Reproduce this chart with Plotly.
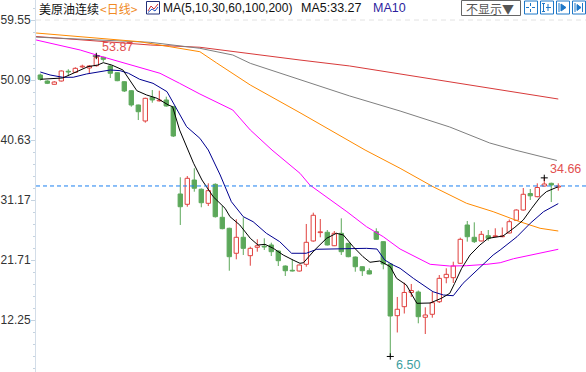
import plotly.graph_objects as go

W, H = 586, 372
PLOT_LEFT = 36

# ---- daily OHLC (candle index 0..74) ----
opens = [50.88, 49.93, 49.41, 49.93, 51.45, 51.30, 52.15, 51.98, 52.34, 53.67,
         52.30, 51.24, 49.82, 48.40, 46.15, 43.63, 47.36, 46.80, 46.94, 45.88,
         32.12, 30.49, 34.32, 32.86, 30.65, 33.64, 28.44, 26.71, 22.77, 25.29,
         22.39, 23.71, 23.86, 24.08, 23.13, 20.76, 20.02, 19.97, 21.03, 24.71,
         26.03, 26.08, 23.96, 25.92, 24.34, 22.18, 20.65, 20.02, 26.17, 24.60,
         21.08, 12.93, 14.35, 16.59, 16.66, 12.68, 13.15, 15.13, 18.92, 18.92,
         21.19, 27.23, 25.29, 24.71, 25.54, 25.40, 25.38, 25.97, 27.97, 29.59,
         32.19, 31.69, 33.37, 33.80, 33.20]
highs = [51.10, 50.05, 49.90, 51.60, 51.78, 52.10, 52.50, 52.45, 53.87, 53.75,
         52.40, 51.30, 49.90, 48.50, 46.20, 47.30, 48.51, 48.40, 47.46, 46.00,
         34.75, 34.95, 36.17, 33.00, 33.80, 33.80, 30.22, 26.80, 28.13, 28.44,
         23.81, 24.97, 25.13, 24.44, 23.20, 20.85, 21.82, 21.00, 27.39, 29.17,
         28.17, 26.44, 26.28, 28.28, 24.40, 22.25, 20.70, 20.40, 26.71, 24.65,
         21.10, 15.88, 18.13, 17.93, 16.90, 14.25, 16.71, 19.34, 20.40, 21.44,
         25.23, 27.86, 27.65, 26.28, 26.44, 26.71, 26.84, 28.10, 29.70, 33.06,
         32.90, 33.80, 34.66, 33.90, 33.80]
lows = [50.00, 49.45, 49.35, 49.85, 50.72, 51.20, 51.95, 51.19, 52.20, 52.97,
        50.41, 49.90, 48.20, 45.88, 43.78, 43.36, 46.51, 46.70, 45.90, 41.10,
        27.23, 30.11, 32.48, 30.02, 30.22, 28.40, 26.55, 20.02, 21.82, 22.50,
        20.81, 23.02, 23.29, 22.34, 20.76, 19.19, 19.90, 19.90, 20.65, 24.60,
        25.29, 24.00, 23.90, 22.50, 22.14, 19.86, 19.19, 19.45, 24.90, 20.24,
        6.50, 10.28, 13.27, 15.88, 11.73, 10.04, 12.61, 14.93, 18.04, 18.08,
        21.10, 24.60, 24.39, 24.65, 24.75, 25.35, 25.30, 25.90, 27.90, 29.50,
        31.17, 31.60, 33.30, 30.85, 32.64]
closes = [50.20, 49.57, 49.77, 51.51, 51.35, 51.93, 52.22, 52.30, 53.67, 53.35,
          51.15, 49.98, 48.36, 46.15, 45.09, 47.20, 46.94, 46.86, 45.99, 41.26,
          30.11, 34.59, 33.02, 30.74, 32.64, 28.54, 26.65, 22.23, 25.29, 23.55,
          23.55, 23.96, 23.76, 23.02, 21.60, 20.02, 19.97, 20.92, 24.50, 28.76,
          26.13, 24.08, 25.92, 23.02, 22.23, 20.65, 20.02, 19.50, 24.97, 21.08,
          12.88, 13.94, 16.59, 16.90, 12.77, 13.04, 14.98, 18.82, 19.45, 20.76,
          24.97, 25.38, 24.60, 25.76, 25.13, 25.48, 25.45, 27.75, 29.59, 32.07,
          31.83, 33.14, 33.69, 33.53, 33.38]

# ---- moving averages (candle index, price) ----
ma5_x = [0, 3.2, 6.8, 8.2, 9, 10.2, 11.8, 12.8, 13.8, 15.2, 16.7, 18.3, 18.9, 19.9,
         21.4, 21.9, 23.1, 24.7, 26.4, 27.1, 28.5, 30.0, 31.1, 32.1, 33.3, 34.7, 36.1,
         37.1, 37.6, 39.2, 40.9, 42.3, 43.3, 44.7, 46.1, 47.1, 48.5, 50.0, 50.9, 52.3,
         53.8, 55.7, 57.3, 58.5, 59.2, 60.2, 61.4, 62.8, 64.0, 65.7, 66.1, 67.8, 69.0,
         70.2, 71.4, 72.3, 73.3, 74]
ma5_y = [50.20, 50.41, 52.19, 52.45, 52.82, 52.45, 51.67, 50.09, 48.40, 47.72, 47.20,
         46.15, 45.88, 42.21, 38.27, 36.96, 34.32, 31.69, 29.86, 28.54, 27.23, 25.13,
         24.07, 24.18, 23.55, 22.50, 21.71, 21.19, 21.28, 23.29, 25.13, 25.92, 25.65,
         23.81, 22.23, 21.35, 21.55, 20.65, 18.82, 17.77, 14.88, 14.93, 15.67, 16.46,
         18.04, 20.40, 22.50, 24.07, 25.13, 25.39, 25.49, 26.87, 28.02, 29.86, 31.60,
         32.48, 32.90, 33.27]
ma10_x = [0, 1.4, 3.2, 4.7, 6.6, 8.5, 10, 11.4, 12.6, 14.2, 16.1, 18.1, 20.9, 22.8, 24,
          25.7, 27.3, 29, 30.4, 32.3, 34.2, 35.9, 38, 39.5, 41.4, 46.6, 48.1, 49.2, 50.4,
          51.4, 53.3, 54.7, 56.1, 57.6, 59, 60.4, 61.9, 63.3, 64.7, 65.7, 68.1, 70, 71.9, 74]
ma10_y = [51.35, 50.88, 50.52, 50.52, 51.04, 51.40, 51.67, 51.56, 51.15, 50.20, 49.57,
          48.25, 42.73, 40.90, 39.05, 35.11, 30.90, 28.54, 27.75, 25.92, 24.60, 22.77,
          22.77, 23.40, 23.44, 23.55, 23.44, 21.71, 20.92, 20.40, 18.82, 17.77, 16.71,
          16.19, 16.08, 18.04, 19.61, 20.92, 22.50, 23.29, 25.38, 27.50, 29.33, 30.60]
ma30_x = [-0.6, 2.8, 5.7, 8.5, 11.4, 14.2, 17.1, 19.9, 22.8, 27.5, 30, 33.1, 37.1, 38.5,
          40.9, 43.8, 46.6, 49, 51.4, 53.3, 55.7, 58.5, 60.9, 63.8, 65.7, 67.6, 74]
ma30_y = [56.40, 55.61, 54.82, 53.87, 52.98, 52.09, 51.15, 49.57, 47.88, 45.36, 42.21,
          39.05, 35.38, 33.54, 31.69, 29.33, 26.96, 25.38, 23.44, 22.34, 21.03, 20.76,
          20.81, 21.03, 21.28, 21.91, 23.40]
ma60_x = [-0.6, 2.8, 8.5, 14.2, 18.5, 22.8, 25.2, 30, 37.1, 41.4, 46.4, 51.4, 56.1,
          60.9, 64.7, 68.5, 71.4, 74]
ma60_y = [57.50, 57.18, 56.66, 56.13, 55.34, 54.55, 52.77, 49.30, 44.93, 42.17, 39.05,
          36.17, 33.27, 30.65, 29.33, 27.75, 26.71, 26.28]
ma100_x = [-0.6, 8.5, 15.7, 22.8, 27.5, 30, 37.1, 44.2, 51.4, 58.5, 64.2, 67.8, 73.8]
ma100_y = [56.85, 56.40, 56.03, 55.09, 54.03, 52.72, 50.09, 47.57, 45.20, 42.68, 40.16,
           39.05, 37.40]
ma200_x = [-0.6, 8.5, 15.7, 22.8, 30, 37.1, 44.2, 51.4, 58.5, 65.7, 74]
ma200_y = [56.95, 56.24, 55.61, 55.25, 54.19, 53.24, 52.30, 51.04, 49.77, 48.51, 47.09]

ytick_vals = [12.25, 21.71, 31.17, 40.63, 50.09, 59.55]
marks = [(8, "high"), (72, "high"), (50, "low")]

RED = "#e0413f"
GREEN = "#5ca85a"

n = len(closes)
idx = list(range(n))
up = [closes[i] >= opens[i] for i in idx]

fig = go.Figure()


def wick_xy(sel):
    xs, ys = [], []
    for i in idx:
        if up[i] != sel:
            continue
        top = max(opens[i], closes[i])
        bot = min(opens[i], closes[i])
        xs += [i, i, None, i, i, None]
        ys += [highs[i], top, None, bot, lows[i], None]
    return xs, ys


for sel, fill, col in [(True, "white", RED), (False, GREEN, GREEN)]:
    wx, wy = wick_xy(sel)
    fig.add_trace(go.Scatter(x=wx, y=wy, mode="lines", line=dict(color=col, width=1),
                             hoverinfo="skip"))
    xs = [i for i in idx if up[i] == sel]
    base = [min(opens[i], closes[i]) for i in xs]
    hgt = [max(abs(closes[i] - opens[i]), 0.12) for i in xs]
    fig.add_trace(go.Bar(x=xs, y=hgt, base=base, width=0.62,
                         marker=dict(color=fill, line=dict(color=col, width=1)),
                         hoverinfo="skip"))

for xs, ys, col in [(ma200_x, ma200_y, "#d83a3a"), (ma100_x, ma100_y, "#7f7f7f"),
                    (ma60_x, ma60_y, "#ff8a00"), (ma30_x, ma30_y, "#ff00ff"),
                    (ma10_x, ma10_y, "#000090"), (ma5_x, ma5_y, "#000000")]:
    fig.add_trace(go.Scatter(x=xs, y=ys, mode="lines", line=dict(color=col, width=1),
                             hoverinfo="skip"))

# extreme markers
mx, my = [], []
annots = []
for i, kind in marks:
    v = highs[i] if kind == "high" else lows[i]
    mx += [i - 0.5, i + 0.5, None, i, i, None]
    my += [v, v, None, v - 0.5, v + 0.5, None]
    if kind == "high":
        annots.append(dict(x=i, y=v, xref="x", yref="y", text=f"{v:.2f}", showarrow=False,
                           xanchor="left", yanchor="bottom", xshift=4, yshift=0,
                           font=dict(family="Liberation Sans", size=12.5, color="#e25050")))
    else:
        annots.append(dict(x=i, y=v, xref="x", yref="y", text=f"{v:.2f}", showarrow=False,
                           xanchor="left", yanchor="top", xshift=4, yshift=0,
                           font=dict(family="Liberation Sans", size=12.5, color="#3c9e9e")))
fig.add_trace(go.Scatter(x=mx, y=my, mode="lines", line=dict(color="black", width=1),
                         hoverinfo="skip"))


def P(px):
    return px / W


def Q(py):
    return 1 - py / H


shapes = []
shapes.append(dict(type="line", xref="paper", yref="y", x0=P(PLOT_LEFT), x1=1,
                   y0=ytick_vals[-1], y1=ytick_vals[-1],
                   line=dict(color="#e2e2e2", width=1, dash="5px,4px")))
shapes.append(dict(type="line", xref="paper", yref="y", x0=P(PLOT_LEFT), x1=1,
                   y0=closes[-1], y1=closes[-1],
                   line=dict(color="#1a7ff0", width=1, dash="4px,3px")))

# header decorations
shapes.append(dict(type="rect", xref="paper", yref="paper", x0=P(146.5), x1=P(159.5),
                   y0=Q(14), y1=Q(1.5), line=dict(color="#22307a", width=1), fillcolor="white"))
shapes.append(dict(type="path", xref="paper", yref="paper",
                   path=f"M{P(148)},{Q(11)} L{P(151)},{Q(6)} L{P(154)},{Q(9)} L{P(158)},{Q(4)}",
                   line=dict(color="#d03030", width=1)))
shapes.append(dict(type="path", xref="paper", yref="paper",
                   path=f"M{P(148)},{Q(12.5)} L{P(152)},{Q(9)} L{P(155)},{Q(11)} L{P(158)},{Q(7)}",
                   line=dict(color="#2050c0", width=1)))
shapes.append(dict(type="rect", xref="paper", yref="paper", x0=P(461.5), x1=P(520.5),
                   y0=Q(15.5), y1=Q(0.5), line=dict(color="#666666", width=1), fillcolor="white"))
BLUE = "#1f78c8"
for x0 in [524, 540, 556, 572]:
    shapes.append(dict(type="rect", xref="paper", yref="paper", x0=P(x0 + 0.5), x1=P(x0 + 13.5),
                       y0=Q(14), y1=Q(1), line=dict(color=BLUE, width=1), fillcolor="white"))
glyph_paths = [
    f"M{P(526)},{Q(7.5)} L{P(529)},{Q(7.5)} M{P(532)},{Q(7.5)} L{P(535)},{Q(7.5)} "
    f"M{P(530.5)},{Q(3)} L{P(530.5)},{Q(6)} M{P(530.5)},{Q(9)} L{P(530.5)},{Q(12)}",
    f"M{P(543.5)},{Q(3)} L{P(543.5)},{Q(12)} M{P(542)},{Q(3.5)} L{P(545)},{Q(3.5)} "
    f"M{P(542)},{Q(11.5)} L{P(545)},{Q(11.5)} M{P(548)},{Q(4)} L{P(548)},{Q(11)} "
    f"M{P(546)},{Q(7.5)} L{P(551)},{Q(7.5)}",
    f"M{P(559)},{Q(3)} L{P(559)},{Q(12)} M{P(561)},{Q(4)} L{P(566)},{Q(7.5)} L{P(561)},{Q(11)} Z",
    f"M{P(575)},{Q(3)} L{P(575)},{Q(12)} M{P(577)},{Q(4.5)} L{P(581)},{Q(7.5)} L{P(577)},{Q(10.5)} Z "
    f"M{P(582.5)},{Q(3)} L{P(582.5)},{Q(12)}",
]
for gp in glyph_paths:
    shapes.append(dict(type="path", xref="paper", yref="paper", path=gp,
                       line=dict(color=BLUE, width=1), fillcolor=BLUE))


def head(px, text, color, family, size):
    return dict(x=P(px - 1), y=Q(8.5), xref="paper", yref="paper", text=text, showarrow=False,
                xanchor="left", yanchor="middle", font=dict(family=family, size=size, color=color))


CJK = "Noto Sans CJK SC"
LAT = "Liberation Sans"
annots += [
    head(38, "美原油连续", "#111111", CJK, 12),
    head(99, "&lt;日线&gt;", "#f08a24", CJK, 12),
    head(162, "MA(5,10,30,60,100,200)", "#111111", LAT, 12),
    head(300, "MA5:33.27", "#111111", LAT, 12.5),
    head(372, "MA10", "#2d1f9e", LAT, 12.5),
    head(465, "不显示▼", "#555555", CJK, 12),
]

fig.update_layout(
    template="none",
    width=W, height=H,
    margin=dict(l=0, r=0, t=0, b=0, pad=0, autoexpand=False),
    paper_bgcolor="white", plot_bgcolor="white",
    showlegend=False, hovermode=False, barmode="overlay",
    xaxis=dict(domain=[PLOT_LEFT / W, 1], range=[-0.614, 77.96], visible=False,
               fixedrange=True, automargin=False),
    yaxis=dict(range=[4.051, 62.703], domain=[0, 1], tickmode="array", tickvals=ytick_vals,
               ticktext=[f"{v:.2f}" for v in ytick_vals], ticks="outside", ticklen=4,
               tickwidth=1, tickcolor="#c5d3e0", showline=True, linecolor="#d3dde8",
               linewidth=1, showgrid=False, zeroline=False, fixedrange=True,
               automargin=False, ticklabelstandoff=-2,
               tickfont=dict(family=LAT, size=12, color="#333333"),
               minor=dict(ticks="outside", ticklen=2, tickcolor="#c5d3e0", dtick=1.892,
                          tick0=12.25, showgrid=False)),
    shapes=shapes,
    annotations=annots,
)

fig.write_html("out.html", config={"displayModeBar": False, "staticPlot": True},
               post_script="document.body.style.margin='0';document.body.style.padding='0';")
